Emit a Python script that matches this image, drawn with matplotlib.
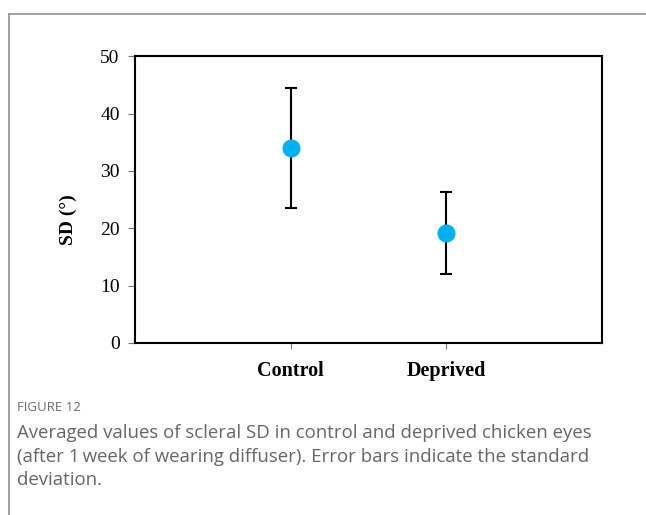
import matplotlib.pyplot as plt
from matplotlib.lines import Line2D

# dados
grupos = ["Control", "Deprived"]
media_sd = [34.0, 19.2]
desvio = [10.5, 7.2]
yticks = [0, 10, 20, 30, 40, 50]

legenda_fig = "FIGURE 12"
texto_legenda = ("Averaged values of scleral SD in control and deprived chicken eyes\n"
                 "(after 1\u2009week of wearing diffuser). Error bars indicate the standard\n"
                 "deviation.")

fig = plt.figure(figsize=(6.46, 5.15), dpi=100)
ax = fig.add_axes([0.209, 0.334, 0.723, 0.557])

x = [1, 2]
ax.errorbar(x, media_sd, yerr=desvio, fmt='o', color='#00b0f0', markersize=12,
            ecolor='black', elinewidth=1.5, capsize=4, capthick=1.5, zorder=3)

ax.set_xlim(0, 3)
ax.set_ylim(0, 50)
ax.set_xticks(x)
ax.set_xticklabels(grupos, fontfamily='Liberation Serif', fontweight='bold', fontsize=14.5)
ax.set_yticks(yticks)
ax.set_yticklabels([str(v) for v in yticks], fontfamily='Liberation Serif', fontsize=14)
ax.set_ylabel("SD (°)", fontfamily='Liberation Serif', fontweight='bold', fontsize=14)
ax.yaxis.set_label_coords(-0.125, 0.43)

for s in ax.spines.values():
    s.set_linewidth(1.5)
ax.tick_params(axis='y', length=5, width=0.8, color='#777777', pad=6)
ax.tick_params(axis='x', length=4, width=0.8, color='#777777', pad=9)

# moldura cinza da página
fig.add_artist(Line2D([0.014, 1.0], [0.973, 0.973], color='#999999', lw=1.3))
fig.add_artist(Line2D([0.014, 0.014], [0.0, 0.973], color='#999999', lw=1.3))

fig.text(0.026, 0.208, legenda_fig, fontfamily='Open Sans', fontsize=9.5, color='#6f6f6f',
         va='center')
fig.text(0.026, 0.176, texto_legenda, fontfamily='Open Sans', fontsize=13.4, color='#666666',
         va='top', linespacing=1.37)

fig.savefig("out.png", dpi=100)
